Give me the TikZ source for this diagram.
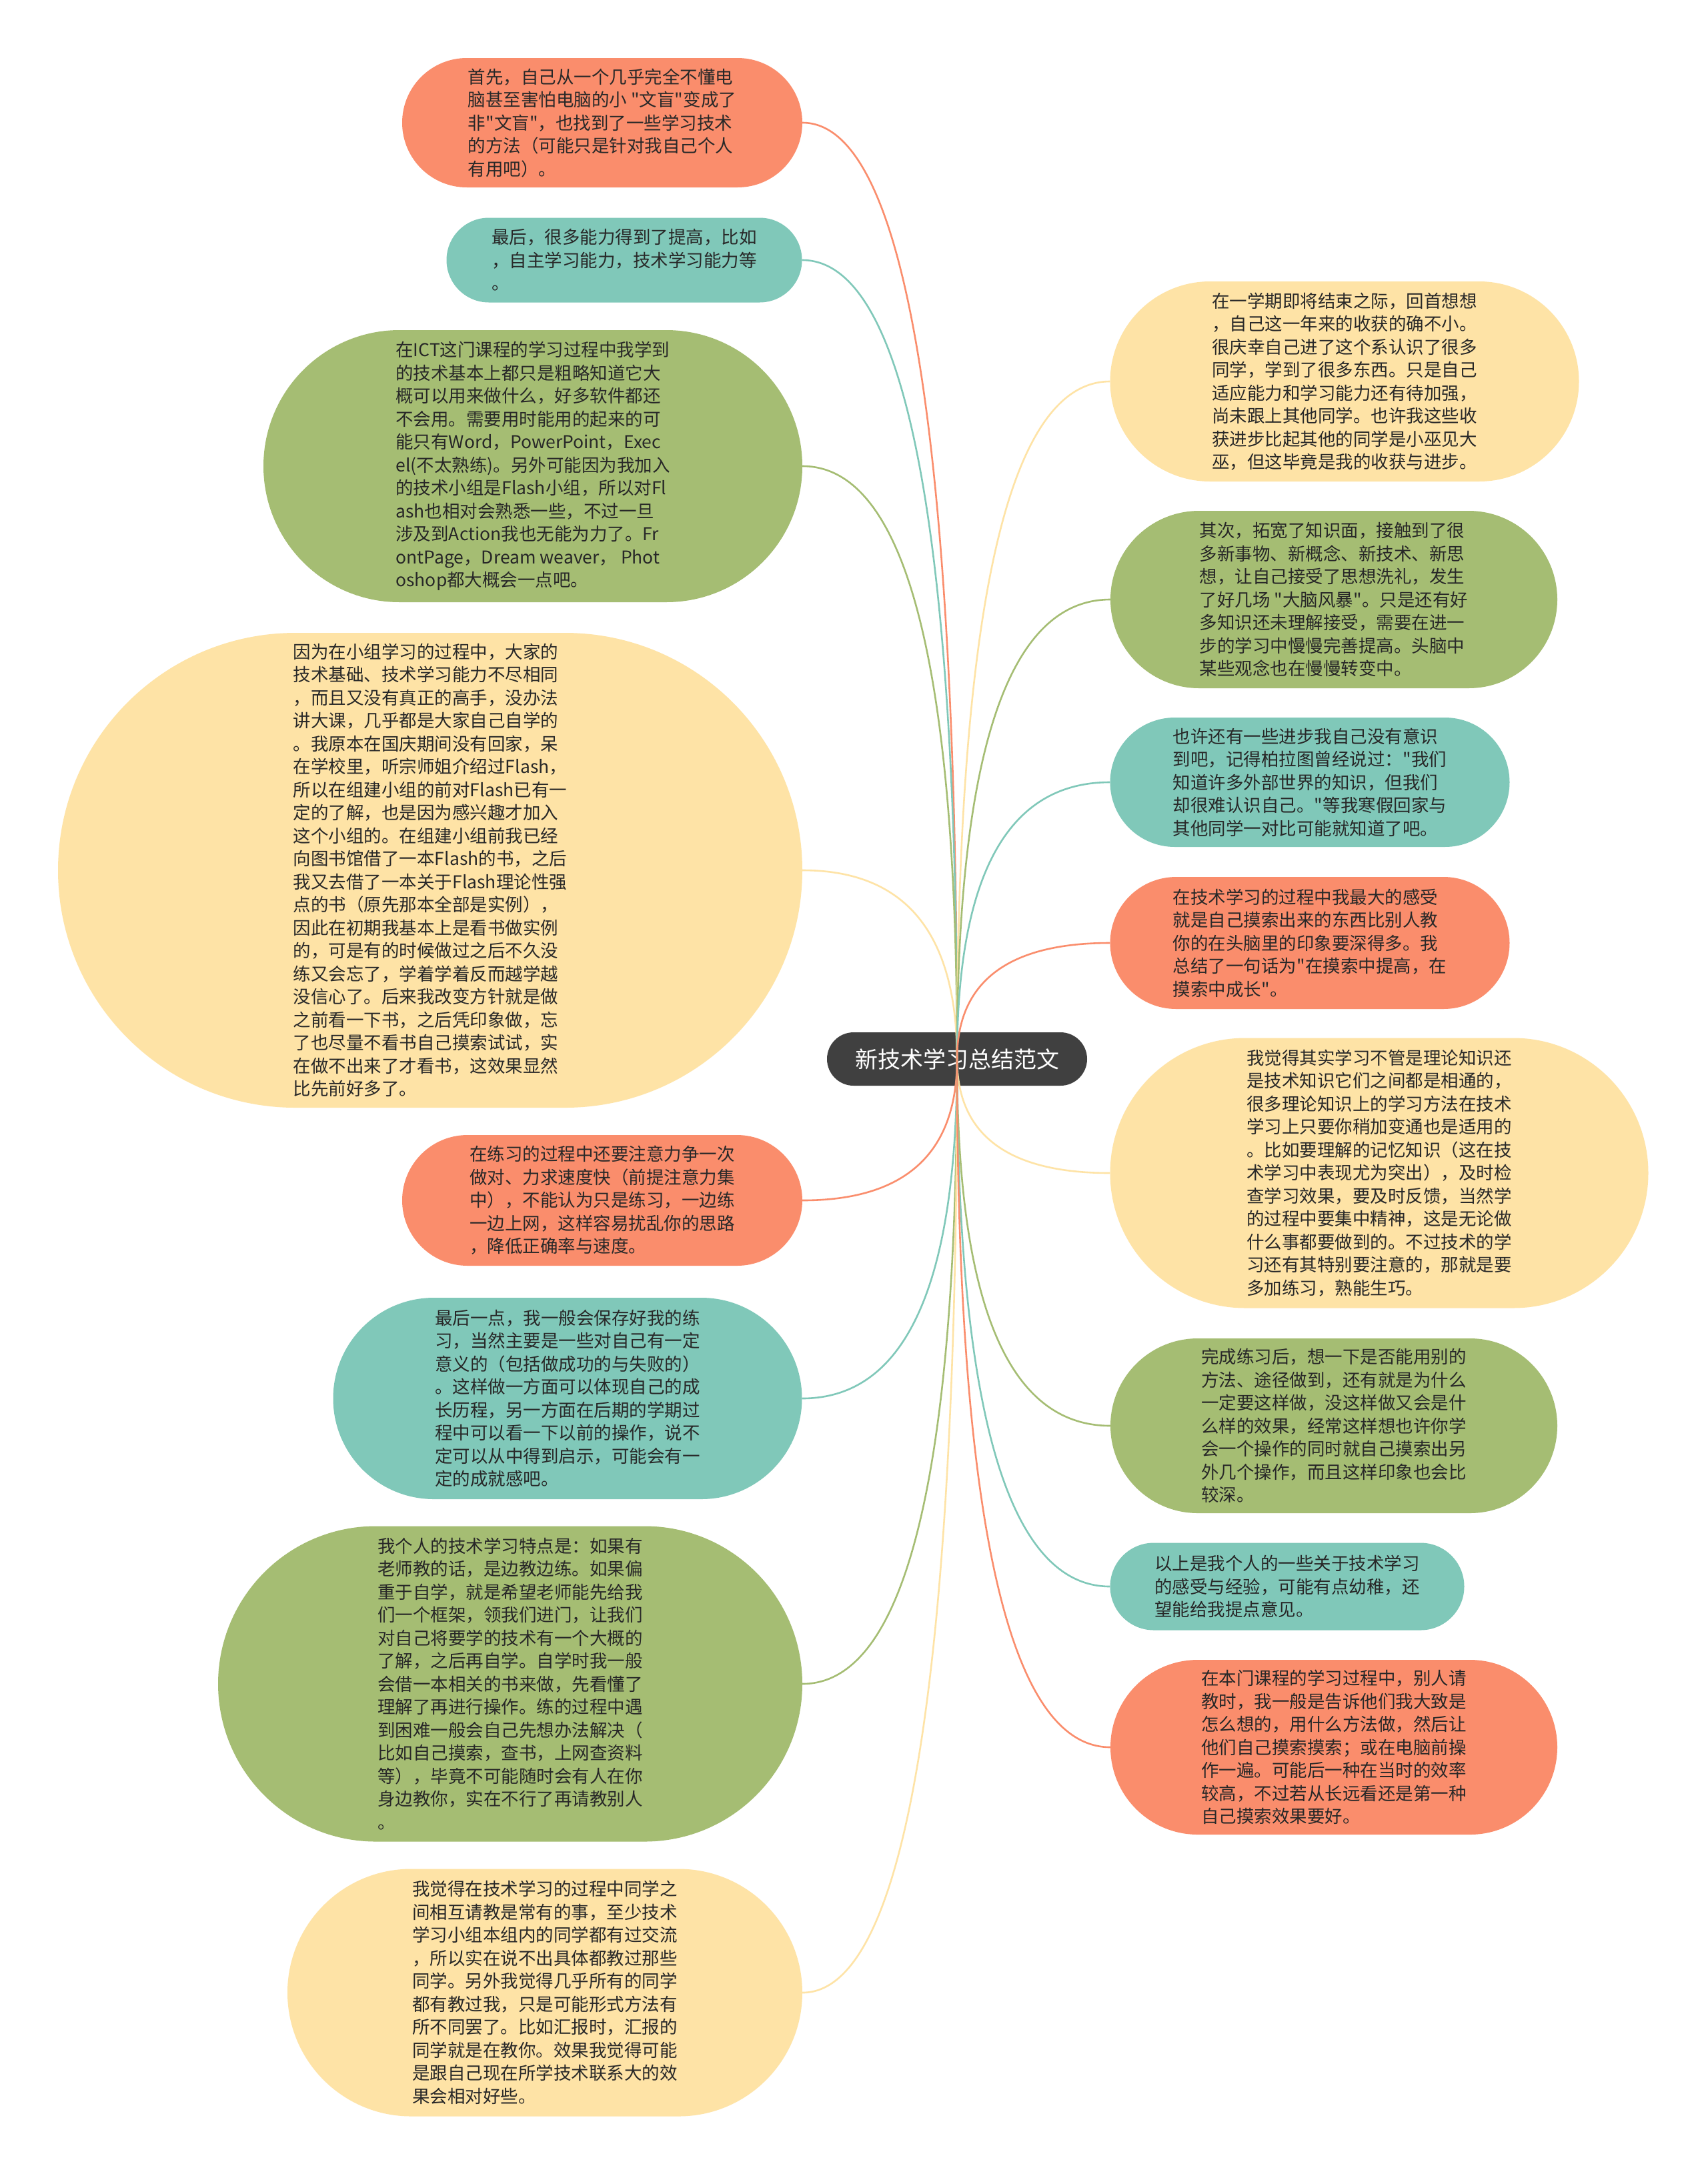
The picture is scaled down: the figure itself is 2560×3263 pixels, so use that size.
\documentclass[tikz,border=0pt]{standalone}
\usepackage{fontspec}
\setmainfont{Noto Sans CJK SC}[Ligatures=TeXOff]
\usetikzlibrary{shapes.misc,calc}
\definecolor{salmon}{RGB}{250,141,108}
\definecolor{seafoam}{RGB}{128,200,185}
\definecolor{moss}{RGB}{165,189,115}
\definecolor{cream}{RGB}{254,227,166}
\definecolor{coal}{RGB}{64,64,64}
\definecolor{inktext}{RGB}{40,40,40}

\begin{document}
\begin{tikzpicture}[x=1pt,y=-1pt,
  bubble/.style={rounded rectangle, inner xsep=0pt, inner ysep=0pt, align=left, text=inktext,
    font=\fontsize{26.5}{34.5}\selectfont},
  branch/.style={line width=2.6pt, to path={.. controls ($(\tikztostart)!2/3!(\tikztostart |- \tikztotarget)$) and ($(\tikztotarget)!2/3!(\tikztostart |- \tikztotarget)$) .. (\tikztotarget)}}]
  \fill[white] (0,0) rectangle (2560,3263);
  \useasboundingbox (0,0) rectangle (2560,3263);
  \node[rounded rectangle, fill=coal, text=white, inner xsep=0pt, minimum width=390pt, minimum height=80pt,
    font=\fontsize{34}{40}\selectfont] (root) at (1435,1588) {新技术学习总结范文};

  \node[bubble, fill=salmon, minimum width=600pt, minimum height=194pt] (l1) at (903,184) {首先，自己从一个几乎完全不懂电\\脑甚至害怕电脑的小 "文盲"变成了\\非"文盲"，也找到了一些学习技术\\的方法（可能只是针对我自己个人\\有用吧）。};
  \node[bubble, fill=seafoam, minimum width=533pt, minimum height=127pt] (l2) at (936,390) {最后，很多能力得到了提高，比如\\，自主学习能力，技术学习能力等\\。};
  \node[bubble, fill=moss, minimum width=808pt, minimum height=408pt] (l3) at (799,699) {在ICT这门课程的学习过程中我学到\\的技术基本上都只是粗略知道它大\\概可以用来做什么，好多软件都还\\不会用。需要用时能用的起来的可\\能只有Word，PowerPoint，Exec\\el(不太熟练)。另外可能因为我加入\\的技术小组是Flash小组，所以对Fl\\ash也相对会熟悉一些，不过一旦\\涉及到Action我也无能为力了。Fr\\ontPage，Dream weaver， Phot\\oshop都大概会一点吧。};
  \node[bubble, fill=cream, minimum width=1116pt, minimum height=712pt] (l4) at (645,1305) {因为在小组学习的过程中，大家的\\技术基础、技术学习能力不尽相同\\，而且又没有真正的高手，没办法\\讲大课，几乎都是大家自己自学的\\。我原本在国庆期间没有回家，呆\\在学校里，听宗师姐介绍过Flash，\\所以在组建小组的前对Flash已有一\\定的了解，也是因为感兴趣才加入\\这个小组的。在组建小组前我已经\\向图书馆借了一本Flash的书，之后\\我又去借了一本关于Flash理论性强\\点的书（原先那本全部是实例），\\因此在初期我基本上是看书做实例\\的，可是有的时候做过之后不久没\\练又会忘了，学着学着反而越学越\\没信心了。后来我改变方针就是做\\之前看一下书，之后凭印象做，忘\\了也尽量不看书自己摸索试试，实\\在做不出来了才看书，这效果显然\\比先前好多了。};
  \node[bubble, fill=salmon, minimum width=600pt, minimum height=196pt] (l5) at (903,1800) {在练习的过程中还要注意力争一次\\做对、力求速度快（前提注意力集\\中），不能认为只是练习，一边练\\一边上网，这样容易扰乱你的思路\\，降低正确率与速度。};
  \node[bubble, fill=seafoam, minimum width=703pt, minimum height=302pt] (l6) at (851,2097) {最后一点，我一般会保存好我的练\\习，当然主要是一些对自己有一定\\意义的（包括做成功的与失败的）\\。这样做一方面可以体现自己的成\\长历程，另一方面在后期的学期过\\程中可以看一下以前的操作，说不\\定可以从中得到启示，可能会有一\\定的成就感吧。};
  \node[bubble, fill=moss, minimum width=876pt, minimum height=473pt] (l7) at (765,2525) {我个人的技术学习特点是：如果有\\老师教的话，是边教边练。如果偏\\重于自学，就是希望老师能先给我\\们一个框架，领我们进门，让我们\\对自己将要学的技术有一个大概的\\了解，之后再自学。自学时我一般\\会借一本相关的书来做，先看懂了\\理解了再进行操作。练的过程中遇\\到困难一般会自己先想办法解决（\\比如自己摸索，查书，上网查资料\\等），毕竟不可能随时会有人在你\\身边教你，实在不行了再请教别人\\。};
  \node[bubble, fill=cream, minimum width=772pt, minimum height=371pt] (l8) at (817,2988) {我觉得在技术学习的过程中同学之\\间相互请教是常有的事，至少技术\\学习小组本组内的同学都有过交流\\，所以实在说不出具体都教过那些\\同学。另外我觉得几乎所有的同学\\都有教过我，只是可能形式方法有\\所不同罢了。比如汇报时，汇报的\\同学就是在教你。效果我觉得可能\\是跟自己现在所学技术联系大的效\\果会相对好些。};

  \node[bubble, fill=cream, minimum width=703pt, minimum height=300pt] (r1) at (2016,572) {在一学期即将结束之际，回首想想\\，自己这一年来的收获的确不小。\\很庆幸自己进了这个系认识了很多\\同学，学到了很多东西。只是自己\\适应能力和学习能力还有待加强，\\尚未跟上其他同学。也许我这些收\\获进步比起其他的同学是小巫见大\\巫，但这毕竟是我的收获与进步。};
  \node[bubble, fill=moss, minimum width=670pt, minimum height=266pt] (r2) at (2000,899) {其次，拓宽了知识面，接触到了很\\多新事物、新概念、新技术、新思\\想，让自己接受了思想洗礼，发生\\了好几场 "大脑风暴"。只是还有好\\多知识还未理解接受，需要在进一\\步的学习中慢慢完善提高。头脑中\\某些观念也在慢慢转变中。};
  \node[bubble, fill=seafoam, minimum width=599pt, minimum height=194pt] (r3) at (1964,1173) {也许还有一些进步我自己没有意识\\到吧，记得柏拉图曾经说过："我们\\知道许多外部世界的知识，但我们\\却很难认识自己。"等我寒假回家与\\其他同学一对比可能就知道了吧。};
  \node[bubble, fill=salmon, minimum width=599pt, minimum height=198pt] (r4) at (1964,1414) {在技术学习的过程中我最大的感受\\就是自己摸索出来的东西比别人教\\你的在头脑里的印象要深得多。我\\总结了一句话为"在摸索中提高，在\\摸索中成长"。};
  \node[bubble, fill=cream, minimum width=807pt, minimum height=405pt] (r5) at (2068,1759) {我觉得其实学习不管是理论知识还\\是技术知识它们之间都是相通的，\\很多理论知识上的学习方法在技术\\学习上只要你稍加变通也是适用的\\。比如要理解的记忆知识（这在技\\术学习中表现尤为突出），及时检\\查学习效果，要及时反馈，当然学\\的过程中要集中精神，这是无论做\\什么事都要做到的。不过技术的学\\习还有其特别要注意的，那就是要\\多加练习，熟能生巧。};
  \node[bubble, fill=moss, minimum width=670pt, minimum height=262pt] (r6) at (2000,2138) {完成练习后，想一下是否能用别的\\方法、途径做到，还有就是为什么\\一定要这样做，没这样做又会是什\\么样的效果，经常这样想也许你学\\会一个操作的同时就自己摸索出另\\外几个操作，而且这样印象也会比\\较深。};
  \node[bubble, fill=seafoam, minimum width=531pt, minimum height=131pt] (r7) at (1930,2379) {以上是我个人的一些关于技术学习\\的感受与经验，可能有点幼稚，还\\望能给我提点意见。};
  \node[bubble, fill=salmon, minimum width=670pt, minimum height=262pt] (r8) at (2000,2620) {在本门课程的学习过程中，别人请\\教时，我一般是告诉他们我大致是\\怎么想的，用什么方法做，然后让\\他们自己摸索摸索；或在电脑前操\\作一遍。可能后一种在当时的效率\\较高，不过若从长远看还是第一种\\自己摸索效果要好。};

  \draw[branch, salmon] (root.center) to (l1.east);
  \draw[branch, seafoam] (root.center) to (l2.east);
  \draw[branch, moss] (root.center) to (l3.east);
  \draw[branch, cream] (root.center) to (l4.east);
  \draw[branch, salmon] (root.center) to (l5.east);
  \draw[branch, seafoam] (root.center) to (l6.east);
  \draw[branch, moss] (root.center) to (l7.east);
  \draw[branch, cream] (root.center) to (l8.east);
  \draw[branch, cream] (root.center) to (r1.west);
  \draw[branch, moss] (root.center) to (r2.west);
  \draw[branch, seafoam] (root.center) to (r3.west);
  \draw[branch, salmon] (root.center) to (r4.west);
  \draw[branch, cream] (root.center) to (r5.west);
  \draw[branch, moss] (root.center) to (r6.west);
  \draw[branch, seafoam] (root.center) to (r7.west);
  \draw[branch, salmon] (root.center) to (r8.west);
\end{tikzpicture}
\end{document}
